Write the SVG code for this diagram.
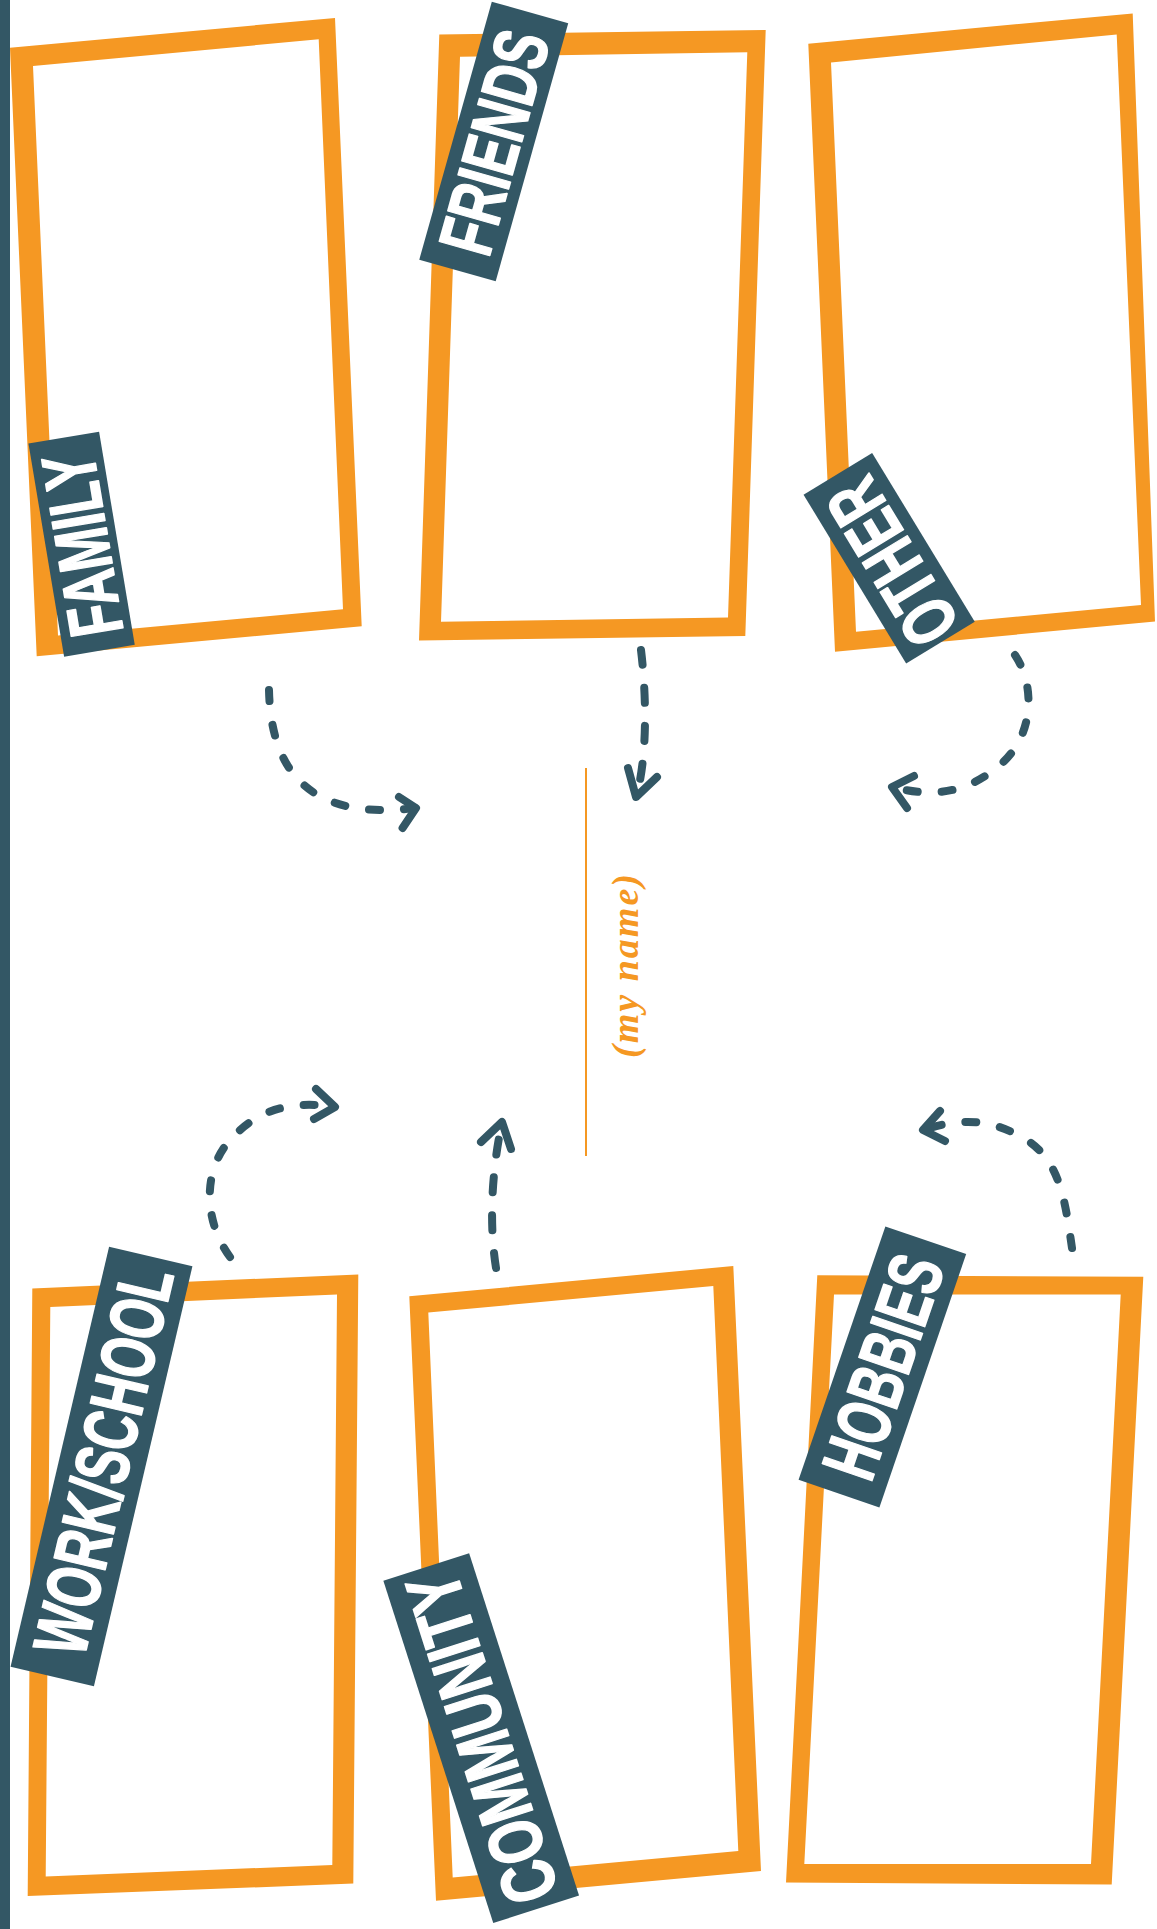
<svg xmlns="http://www.w3.org/2000/svg" width="1157" height="1929" viewBox="0 0 1157 1929">
<style>
.bg{fill:#ffffff}
.bar{fill:#335765}
.frame{fill:#F59823;fill-rule:evenodd}
.tag{fill:#335765}
.tagtxt{fill:#ffffff;stroke:#ffffff;stroke-width:1.6;stroke-linejoin:round;font-family:"Liberation Sans",Arial,sans-serif;font-weight:bold;font-size:76px;text-anchor:middle}
.conn{fill:none;stroke:#335765;stroke-width:8;stroke-linecap:round;stroke-linejoin:round}
.dash{stroke-dasharray:11 24}
.dashlong{stroke-dasharray:15 23}
.name{fill:#F59823;font-family:"Liberation Serif","Times New Roman",serif;font-style:italic;font-weight:bold;font-size:38px;text-anchor:middle}
.nameline{stroke:#F59823;stroke-width:2}
</style>
<rect class="bg" x="0" y="0" width="1157" height="1929"/>
<rect class="bar" x="0" y="0" width="10" height="1929"/>

<g id="family">
<path class="frame" d="M10,47.8 L335,17.9 L361.7,626.3 L36.7,656.2 Z M33,66 L318.7,39.3 L343,609.3 L58,635.5 Z"/>
<g transform="translate(81.6,544.2) rotate(-99.5)">
<rect class="tag" x="-108" y="-35.8" width="216" height="71.6"/>
<text class="tagtxt" x="-0.8" y="27" textLength="184" lengthAdjust="spacingAndGlyphs">FAMILY</text>
</g>
</g>

<g id="friends">
<path class="frame" d="M439.3,34.4 L765.7,29.9 L745.3,636.1 L419,640.6 Z M460,56.7 L747.3,52.2 L728,617.4 L441,621.8 Z"/>
<g transform="translate(493.75,141.4) rotate(-74.3)">
<rect class="tag" x="-134" y="-39.7" width="268" height="79.4"/>
<text class="tagtxt" x="-0.7" y="27" textLength="228" lengthAdjust="spacingAndGlyphs">FRIENDS</text>
</g>
</g>

<g id="other">
<path class="frame" d="M808.3,43.7 L1132.7,13.4 L1155,621.5 L835,651.7 Z M831,62.5 L1116.7,34.4 L1141,604.9 L856,631.7 Z"/>
<g transform="translate(889.15,558.2) rotate(-121.3)">
<rect class="tag" x="-98.75" y="-40.15" width="197.5" height="80.3"/>
<text class="tagtxt" x="-5" y="27" textLength="179" lengthAdjust="spacingAndGlyphs">OTHER</text>
</g>
</g>

<g id="work-school">
<path class="frame" d="M32.3,1288.4 L358.3,1274.4 L353.3,1883.6 L27.7,1896.1 Z M50.3,1307 L337,1294.4 L332.3,1865 L45.7,1876.6 Z"/>
<g transform="translate(101.5,1466.5) rotate(-76.8)">
<rect class="tag" x="-215.7" y="-42.8" width="431.4" height="85.6"/>
<text class="tagtxt" x="6" y="27" textLength="395" lengthAdjust="spacingAndGlyphs">WORK/SCHOOL</text>
</g>
</g>

<g id="community">
<path class="frame" d="M409.3,1296.3 L733.3,1266 L761,1871 L436,1900.8 Z M428.3,1312.5 L713.3,1286 L738.3,1851 L452.7,1877.5 Z"/>
<g transform="translate(481.2,1738.1) rotate(-107.8)">
<rect class="tag" x="-179.75" y="-45.05" width="359.5" height="90.1"/>
<text class="tagtxt" x="0" y="27" textLength="342" lengthAdjust="spacingAndGlyphs">COMMUNITY</text>
</g>
</g>

<g id="hobbies">
<path class="frame" d="M817.3,1275.3 L1143.3,1276.7 L1111.7,1884.5 L786,1882.6 Z M834,1294.4 L1120.7,1294.4 L1091,1864 L804.3,1864 Z"/>
<g transform="translate(882.4,1366.9) rotate(-71.1)">
<rect class="tag" x="-134" y="-42.7" width="267.9" height="85.4"/>
<text class="tagtxt" x="0.5" y="27" textLength="230" lengthAdjust="spacingAndGlyphs">HOBBIES</text>
</g>
</g>

<g id="me">
<line class="nameline" x1="586" y1="768" x2="586" y2="1156"/>
<text class="name" transform="translate(638,966) rotate(-90)" x="0" y="0" textLength="184">(my name)</text>
</g>

<g id="connectors">
<path class="conn dash" d="M269,690 C271,780 318,820 416,808"/>
<path class="conn" d="M399,797 L416,808 L402.6,828"/>
<path class="conn dashlong" d="M641,650 C647,700 647,760 636,797"/>
<path class="conn" d="M628,768 L636,797 L657,777"/>
<path class="conn dash" d="M1015,655 C1035,685 1035,735 1000,765 S930,797 892,787"/>
<path class="conn" d="M914,776 L892,787 L907,808"/>
<path class="conn dash" d="M230,1257 C203,1220 203,1170 230,1140 S290,1100 335,1107"/>
<path class="conn" d="M316,1089 L335,1107 L314,1119"/>
<path class="conn dashlong" d="M496,1268 C490,1230 490,1180 502,1122"/>
<path class="conn" d="M481,1142 L502,1122 L511,1149"/>
<path class="conn dash" d="M1072,1248 C1065,1200 1060,1160 1025,1139 S960,1118 923,1130"/>
<path class="conn" d="M940,1111 L923,1130 L945,1141"/>
</g>
</svg>
